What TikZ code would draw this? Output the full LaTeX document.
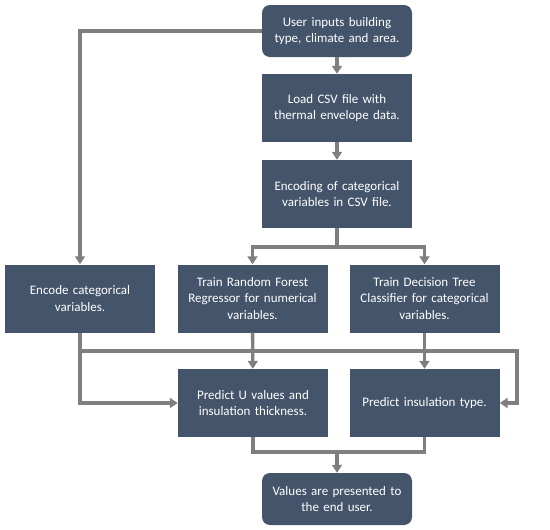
\documentclass[tikz,border=0pt]{standalone}
\usepackage{fontspec}
\setmainfont{Carlito}
\usepackage{tikz}
\usetikzlibrary{arrows.meta, positioning}

\definecolor{boxblue}{HTML}{44546A}
\definecolor{linegray}{HTML}{7F7F7F}

\begin{document}
\begin{tikzpicture}[x=1pt, y=-1pt,
    box/.style={fill=boxblue, text=white, minimum width=150pt, minimum height=68pt,
        text width=144pt, align=center, inner sep=2pt,
        font=\fontsize{13}{16.5}\selectfont},
    endbox/.style={box, minimum height=52pt, rounded corners=8pt},
    flow/.style={draw=linegray, line width=3.4pt},
    arr/.style={flow, -{Triangle[width=10pt, length=8pt]}}]
    % Marco de la figura
    \useasboundingbox (0,0) rectangle (550,530);

    % Columna central
    \node[endbox] (input) at (337,31) {User inputs building\\type, climate and area.};
    \node[box] (load) at (337,108) {Load CSV file with\\thermal envelope data.};
    \node[box] (encode) at (337,194) {Encoding of categorical\\variables in CSV file.};

    % Fila de entrenamiento
    \node[box] (enccat) at (80,298.5) {Encode categorical\\variables.};
    \node[box] (forest) at (252.5,298.5) {Train Random Forest\\Regressor for numerical\\variables.};
    \node[box] (tree) at (424.5,298.5) {Train Decision Tree\\Classifier for categorical\\variables.};

    % Fila de prediccion
    \node[box] (predu) at (253,403) {Predict U values and\\insulation thickness.};
    \node[box] (predins) at (424.5,403) {Predict insulation type.};

    % Resultado
    \node[endbox] (output) at (337,499) {Values are presented to\\the end user.};

    % Puntos de union
    \coordinate (split) at (337,247);
    \coordinate (bus) at (80,351);
    \coordinate (busend) at (517,351);
    \coordinate (join) at (337,452);

    % Conexiones
    \draw[arr] (input) -- (load);
    \draw[arr] (load) -- (encode);
    \draw[arr] (input.west) -| (enccat.north);
    \draw[flow] (encode.south) -- (split);
    \draw[arr] (split) -| (forest.north);
    \draw[arr] (split) -| (tree.north);
    \draw[arr] (forest) -- (predu);
    \draw[arr] (tree) -- (predins);
    \draw[arr] (enccat.south) |- (predu.west);
    \draw[arr] (bus) -- (busend) |- (predins.east);
    \draw[flow] (predu.south) |- (join);
    \draw[flow] (predins.south) |- (join);
    \draw[arr] (join) -- (output);
\end{tikzpicture}
\end{document}
